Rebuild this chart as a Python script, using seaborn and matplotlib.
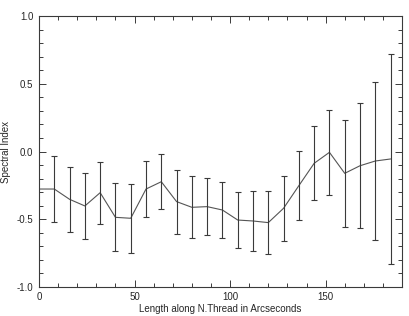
import numpy as np
import pandas as pd
import matplotlib
matplotlib.use("Agg")
import matplotlib.pyplot as plt
import seaborn as sns
from matplotlib.ticker import MultipleLocator

# Data
position = [0, 8, 16, 24, 32, 40, 48, 56, 64, 72, 80, 88, 96, 104, 112, 120,
            128, 136, 144, 152, 160, 168, 176, 184]
spectral_index = [-0.277, -0.277, -0.353, -0.402, -0.304, -0.486, -0.493, -0.277,
                  -0.223, -0.370, -0.412, -0.407, -0.432, -0.506, -0.513, -0.525,
                  -0.419, -0.252, -0.087, -0.006, -0.161, -0.105, -0.070, -0.055]
error = [0.0, 0.246, 0.239, 0.244, 0.229, 0.252, 0.254, 0.209, 0.205, 0.236,
         0.230, 0.211, 0.204, 0.209, 0.219, 0.234, 0.241, 0.253, 0.274, 0.313,
         0.394, 0.462, 0.580, 0.775]
x_label = "Length along N.Thread in Arcseconds"
y_label = "Spectral Index"

sns.set_style("ticks")
plt.rcParams['font.family'] = ['Liberation Sans', 'DejaVu Sans']
plt.rcParams['axes.unicode_minus'] = False

df = pd.DataFrame({"x": position, "y": spectral_index, "err": error})

fig = plt.figure(figsize=(4.09, 3.16), dpi=100)
ax = fig.add_axes([0.0954, 0.092, 0.983 - 0.0954, 0.949 - 0.092])

col = "#3a3a3a"
sns.lineplot(data=df, x="x", y="y", ax=ax, color="#555555", linewidth=0.8)
eb = df[df["err"] > 0]
ax.errorbar(eb["x"], eb["y"], yerr=eb["err"], fmt="none", ecolor=col,
            elinewidth=0.8, capsize=2.3, capthick=0.8)

ax.set_xlim(0, 190)
ax.set_ylim(-1.0, 1.0)
ax.xaxis.set_major_locator(MultipleLocator(50))
ax.xaxis.set_minor_locator(MultipleLocator(10))
ax.yaxis.set_major_locator(MultipleLocator(0.5))
ax.yaxis.set_minor_locator(MultipleLocator(0.1))
ax.yaxis.set_major_formatter(matplotlib.ticker.FormatStrFormatter("%.1f"))
ax.tick_params(which="both", direction="in", top=True, right=True,
               color=col, labelsize=7, width=0.7, pad=4)
ax.tick_params(which="major", length=5)
ax.tick_params(which="minor", length=3)
for s in ax.spines.values():
    s.set_color(col)
    s.set_linewidth(0.8)

ax.set_xlabel(x_label, fontsize=7, labelpad=1)
ax.set_ylabel(y_label, fontsize=7, labelpad=4)

fig.savefig("out.png", dpi=100)
